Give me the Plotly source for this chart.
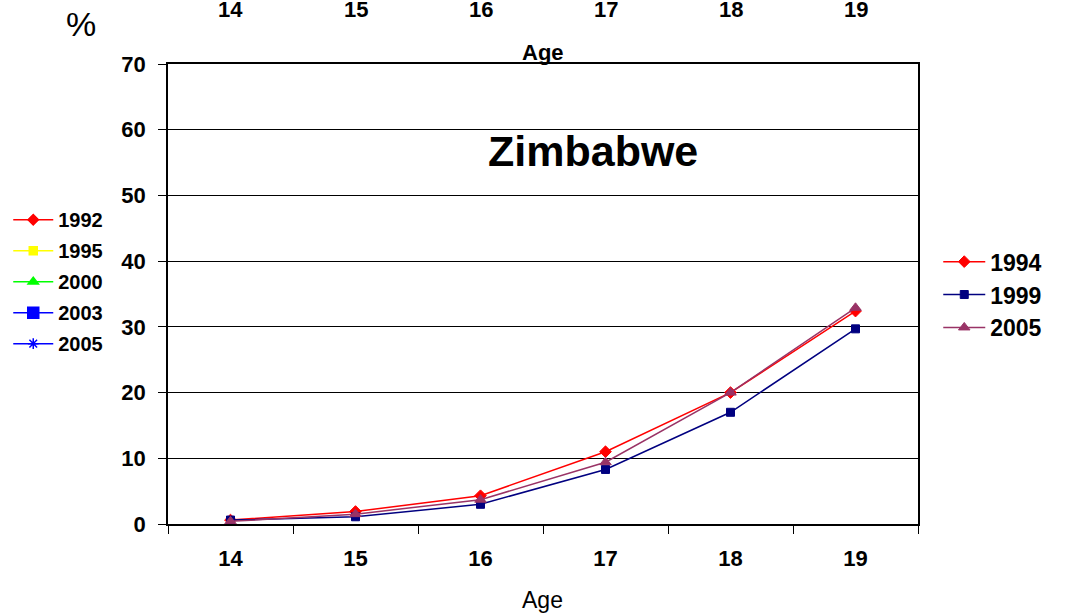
import plotly.graph_objects as go

ages = ["14", "15", "16", "17", "18", "19"]
y1994 = [0.6, 1.9, 4.3, 11.0, 20.0, 32.4]
y1999 = [0.6, 1.1, 3.0, 8.3, 17.0, 29.7]
y2005 = [0.4, 1.5, 3.7, 9.4, 20.0, 32.9]

other_years = ["1992", "1995", "2000", "2003", "2005"]
other_colors = ["#FF0000", "#FFFF00", "#00FF00", "#0000FF", "#0000FF"]
other_symbols = ["diamond", "square", "triangle-up", "square", "asterisk-open"]
other_sizes = [8, 8, 9, 11, 9]

yticks = [0, 10, 20, 30, 40, 50, 60, 70]

FONT = "Liberation Sans, Arial, sans-serif"

fig = go.Figure()

main = [
    ("1994", y1994, "#FF0000", "diamond", 9),
    ("1999", y1999, "#000080", "square", 8),
    ("2005", y2005, "#993366", "triangle-up", 10),
]
for name, vals, col, sym, sz in main:
    fig.add_trace(go.Scatter(
        x=ages, y=vals, name=name, mode="lines+markers",
        line=dict(color=col, width=1.5),
        marker=dict(symbol=sym, size=sz, color=col, line=dict(width=1, color=col)),
        legend="legend",
    ))

for name, col, sym, sz in zip(other_years, other_colors, other_symbols, other_sizes):
    fig.add_trace(go.Scatter(
        x=[None], y=[None], name=name, mode="lines+markers",
        line=dict(color=col, width=1.5),
        marker=dict(symbol=sym, size=sz, color=col, line=dict(width=1.5, color=col)),
        legend="legend2", legendgroup="g" + name,
    ))

fig.update_layout(
    width=1066, height=614,
    margin=dict(l=168, r=148, t=64, b=90, autoexpand=False),
    paper_bgcolor="white", plot_bgcolor="white",
    font=dict(family=FONT, color="black"),
    showlegend=True,
    legend=dict(
        x=1.027, y=0.617, xanchor="left", yanchor="top",
        font=dict(size=23, family=FONT, color="black", weight="bold"),
        bgcolor="rgba(0,0,0,0)", itemwidth=42,
    ),
    legend2=dict(
        x=-0.213, y=0.704, xanchor="left", yanchor="top",
        font=dict(size=20, family=FONT, color="black", weight="bold"),
        bgcolor="rgba(0,0,0,0)", itemwidth=40, tracegroupgap=2,
    ),
    xaxis=dict(
        type="category", categoryorder="array", categoryarray=ages,
        range=[-0.5, 5.5],
        tickson="boundaries", ticks="outside", ticklen=8, tickwidth=1, tickcolor="black",
        showline=True, linecolor="black", linewidth=1.5, mirror=True,
        showgrid=False, zeroline=False, ticklabelstandoff=14,
        tickfont=dict(size=22, family=FONT, color="black", weight="bold"),
    ),
    yaxis=dict(
        range=[0, 70], tickvals=yticks,
        ticks="outside", ticklen=8, tickwidth=1, tickcolor="black",
        showline=True, linecolor="black", linewidth=1.5, mirror=True,
        showgrid=True, gridcolor="black", gridwidth=1.2, zeroline=False,
        ticklabelstandoff=8,
        tickfont=dict(size=22, family=FONT, color="black", weight="bold"),
    ),
)

annotations = []
for i, a in enumerate(ages):
    annotations.append(dict(
        x=i, y=1.1174, xref="x", yref="paper", text=a, showarrow=False,
        xanchor="center", yanchor="middle",
        font=dict(size=22, family=FONT, color="black", weight="bold"),
    ))
annotations += [
    dict(x=0.5, y=1.026, xref="paper", yref="paper", text="Age", showarrow=False,
         xanchor="center", yanchor="middle",
         font=dict(size=22, family=FONT, color="black", weight="bold")),
    dict(x=-0.116, y=1.087, xref="paper", yref="paper", text="%", showarrow=False,
         xanchor="center", yanchor="middle",
         font=dict(size=34, family=FONT, color="black")),
    dict(x=0.566, y=0.811, xref="paper", yref="paper", text="Zimbabwe", showarrow=False,
         xanchor="center", yanchor="middle",
         font=dict(size=43, family=FONT, color="black", weight="bold")),
    dict(x=0.4995, y=-0.165, xref="paper", yref="paper", text="Age", showarrow=False,
         xanchor="center", yanchor="middle",
         font=dict(size=23, family=FONT, color="black")),
]
fig.update_layout(annotations=annotations)

fig.write_html("out.html", config={"displayModeBar": False},
               post_script="document.body.style.margin='0';")
